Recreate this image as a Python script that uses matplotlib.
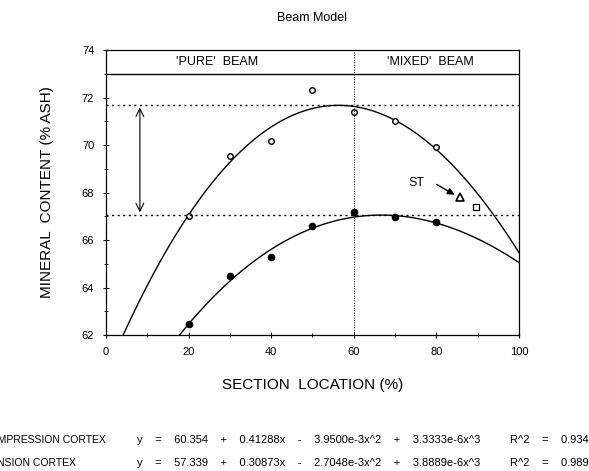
import numpy as np
import matplotlib
matplotlib.use("Agg")
import matplotlib.pyplot as plt

plt.rcParams['font.family'] = ['Liberation Sans', 'DejaVu Sans']

# --- data ---
sections = [20, 30, 40, 50, 60, 70, 80]
compression = [67.0, 69.55, 70.15, 72.3, 71.4, 71.0, 69.9]
tension = [62.45, 64.5, 65.3, 66.6, 67.18, 66.95, 66.77]

# cubic fits (constant, x, x^2, x^3)
comp_coef = [60.354, 0.41288, -3.9500e-3, 3.3333e-6]
tens_coef = [57.339, 0.30873, -2.7048e-3, 3.8889e-6]

comp_eq = "y    =    60.354    +    0.41288x    -    3.9500e-3x^2    +    3.3333e-6x^3"
tens_eq = "y    =    57.339    +    0.30873x    -    2.7048e-3x^2    +    3.8889e-6x^3"
comp_r2 = "R^2    =    0.934"
tens_r2 = "R^2    =    0.989"

pure_max = 71.7
pure_min = 67.05
st_point = (85.7, 67.82)
square_point = (89.6, 67.38)

# --- figure ---
fig = plt.figure(figsize=(5.89, 4.71), dpi=100)
ax = fig.add_axes([0.18, 0.2887, 0.701, 0.605])

def cubic(c, x):
    return c[0] + c[1] * x + c[2] * x ** 2 + c[3] * x ** 3

xs = np.linspace(0, 100, 300)
ax.plot(xs, cubic(comp_coef, xs), color='black', lw=1.0)
ax.plot(xs, cubic(tens_coef, xs), color='black', lw=1.0)

ax.plot(sections, compression, 'o', mfc='white', mec='black', ms=4, mew=1.0)
ax.plot(sections, tension, 'o', color='black', ms=4.5)

# reference lines
ax.axhline(pure_max, color='black', ls=(0, (1.5, 2.5)), lw=1.0)
ax.axhline(pure_min, color='black', ls=(0, (1.5, 2.5)), lw=1.0)
ax.axvline(60, color='black', ls=(0, (1, 1.5)), lw=0.7)
ax.axhline(73, color='black', lw=1.0)

ax.text(27, 73.5, "'PURE'  BEAM", ha='center', va='center', fontsize=9)
ax.text(78.5, 73.5, "'MIXED'  BEAM", ha='center', va='center', fontsize=9)

# double arrow for range
ax.annotate('', xy=(8.2, pure_max), xytext=(8.2, pure_min),
            arrowprops=dict(arrowstyle='<->', color='black', lw=0.8,
                            mutation_scale=14))

# ST marker
ax.plot(*st_point, '^', mfc='white', mec='black', ms=6, mew=1.2)
ax.plot(*square_point, 's', mfc='white', mec='black', ms=5, mew=0.9)
ax.annotate('', xy=(85.0, 67.85), xytext=(79.5, 68.4),
            arrowprops=dict(arrowstyle='-|>', color='black', lw=1.0,
                            mutation_scale=10))
ax.text(75.2, 68.42, 'ST', ha='center', va='center', fontsize=9)

ax.set_xlim(0, 100)
ax.set_ylim(62, 74)
ax.set_xticks([0, 20, 40, 60, 80, 100])
ax.set_yticks([62, 64, 66, 68, 70, 72, 74])
ax.set_xticks(np.arange(0, 101, 10), minor=True)
ax.set_yticks(np.arange(62, 75, 1), minor=True)
ax.tick_params(which='major', direction='inout', length=5, width=0.8,
               labelsize=8, pad=6)
ax.tick_params(which='minor', direction='inout', length=3, width=0.6)
for s in ax.spines.values():
    s.set_linewidth(0.9)

ax.set_xlabel('SECTION  LOCATION (%)', fontsize=11, labelpad=15)
ax.set_ylabel('MINERAL  CONTENT (% ASH)', fontsize=11, labelpad=20)
fig.text(0.53, 0.962, 'Beam Model', ha='center', va='center', fontsize=9)

# footer equations (labels run off the left edge as in the original)
row1 = 1 - 440 / 471
row2 = 1 - 463 / 471
fig.text(-18 / 589, row1, 'COMPRESSION CORTEX', ha='left', va='center', fontsize=7.5)
fig.text(-16 / 589, row2, 'TENSION CORTEX', ha='left', va='center', fontsize=7.5)
fig.text(137 / 589, row1, comp_eq, ha='left', va='center', fontsize=8)
fig.text(137 / 589, row2, tens_eq, ha='left', va='center', fontsize=8)
fig.text(510 / 589, row1, comp_r2, ha='left', va='center', fontsize=8)
fig.text(510 / 589, row2, tens_r2, ha='left', va='center', fontsize=8)

fig.savefig('out.png', dpi=100)
